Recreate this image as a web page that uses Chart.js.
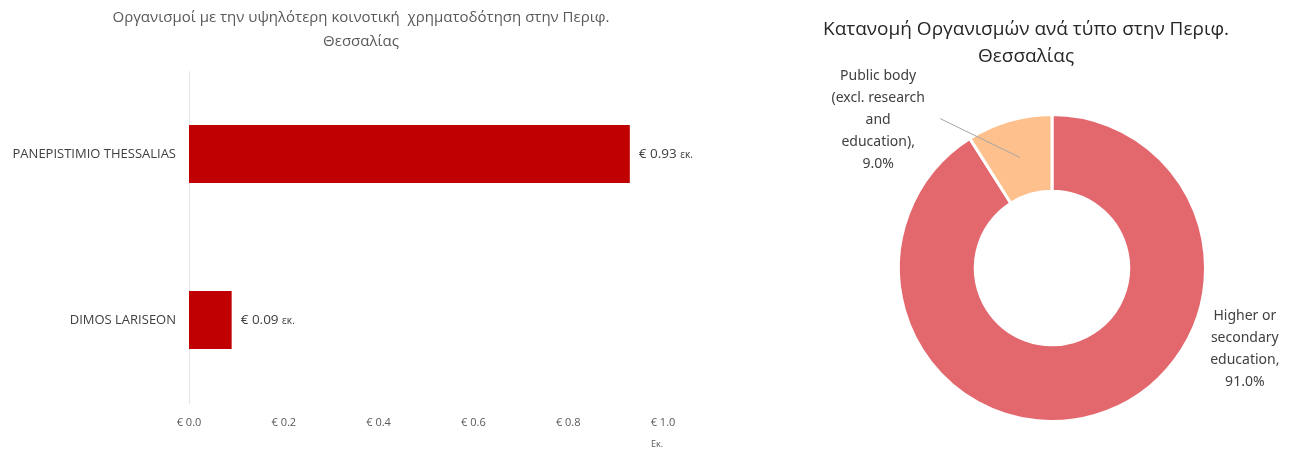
<!DOCTYPE html>
<html><head><meta charset="utf-8">
<script src="https://cdn.jsdelivr.net/npm/chart.js@4/dist/chart.umd.min.js"></script>
<style>
html,body{margin:0;padding:0;background:#fff;width:1294px;height:450px;overflow:hidden;}
#c1{position:absolute;left:0;top:0;}
#c2{position:absolute;left:758px;top:0;}
</style></head><body>
<canvas id="c1" width="722" height="450"></canvas>
<canvas id="c2" width="536" height="450"></canvas>
<script>
const barTitle = ["Οργανισμοί με την υψηλότερη κοινοτική  χρηματοδότηση στην Περιφ.", "Θεσσαλίας"];
const orgNames = ["PANEPISTIMIO THESSALIAS", "DIMOS LARISEON"];
const orgFunding = [0.93, 0.09];
const xTicks = [0, 0.2, 0.4, 0.6, 0.8, 1.0];
const xUnit = "Εκ.";
const valueSuffix = "εκ.";

const pieTitle = ["Κατανομή Οργανισμών ανά τύπο στην Περιφ.", "Θεσσαλίας"];
const orgTypes = ["Higher or secondary education", "Public body (excl. research and education)"];
const typeShares = [91.0, 9.0];
const typeLabelLines = [["Higher or", "secondary", "education,"], ["Public body", "(excl. research", "and", "education),"]];

const FONT = "'Open Sans', 'DejaVu Sans', sans-serif";
const LFONT = "'Noto Sans', 'DejaVu Sans', sans-serif";

const barDecor = {
  id: 'barDecor',
  afterDraw(chart) {
    const ctx = chart.ctx;
    ctx.save();
    ctx.fillStyle = '#595959';
    ctx.font = '15px ' + FONT;
    ctx.textAlign = 'center';
    ctx.textBaseline = 'middle';
    barTitle.forEach((t, k) => ctx.fillText(t, chart.width / 2, 18 + k * 24));
    ctx.textAlign = 'left';
    ctx.fillStyle = '#404040';
    const meta = chart.getDatasetMeta(0);
    meta.data.forEach((bar, i) => {
      const v = chart.data.datasets[0].data[i];
      const main = '€ ' + v.toFixed(2) + ' ';
      ctx.font = '13.5px ' + FONT;
      ctx.fillText(main, bar.x + 9, bar.y);
      const w = ctx.measureText(main).width;
      ctx.font = '10px ' + FONT;
      ctx.fillText(valueSuffix, bar.x + 9 + w, bar.y + 1);
    });
    ctx.restore();
  }
};

new Chart(document.getElementById('c1'), {
  type: 'bar',
  data: { labels: orgNames, datasets: [{ data: orgFunding, backgroundColor: '#C00000', barPercentage: 0.7, categoryPercentage: 0.5 }] },
  options: {
    indexAxis: 'y', responsive: false, animation: false,
    layout: { padding: { left: 0, right: 59, top: 71, bottom: 0 } },
    plugins: { legend: { display: false }, tooltip: { enabled: false }, title: { display: false } },
    scales: {
      x: {
        min: 0, max: 1.0,
        afterBuildTicks(s) { s.ticks = xTicks.map(v => ({ value: v })); },
        afterFit(s) { s.height = 47; },
        grid: { display: false, drawTicks: false }, border: { display: false },
        ticks: { padding: 13, color: '#595959', font: { family: FONT, size: 11 }, callback: v => '€ ' + Number(v).toFixed(1) },
        title: { display: true, text: xUnit, align: 'end', color: '#595959', font: { family: FONT, size: 9 }, padding: { top: 0, bottom: 0 } }
      },
      y: {
        afterFit(s) { s.width = 189; },
        grid: { display: false, drawTicks: false }, border: { display: true, color: '#E6E6E6', width: 1 },
        ticks: { padding: 13, color: '#404040', font: { family: FONT, size: 13 } }
      }
    }
  },
  plugins: [barDecor]
});

const pieDecor = {
  id: 'pieDecor',
  afterDraw(chart) {
    const ctx = chart.ctx;
    ctx.save();
    ctx.fillStyle = '#262626';
    ctx.font = '19px ' + FONT;
    ctx.textAlign = 'center';
    ctx.textBaseline = 'middle';
    pieTitle.forEach((t, k) => ctx.fillText(t, chart.width / 2, 30 + k * 27));
    const meta = chart.getDatasetMeta(0);
    ctx.fillStyle = '#404040';
    ctx.font = '14px ' + LFONT;
    const lh = 22;
    meta.data.forEach((arc, i) => {
      const lines = typeLabelLines[i].concat([typeShares[i].toFixed(1) + '%']);
      const mid = (arc.startAngle + arc.endAngle) / 2;
      const rMid = (arc.innerRadius + arc.outerRadius) / 2;
      let cx, cy;
      if (i === 0) {
        cx = arc.x + arc.outerRadius * Math.cos(mid) + 150;
        cy = arc.y + arc.outerRadius * Math.sin(mid) - 66;
      } else {
        cx = arc.x + arc.outerRadius * Math.cos(mid) - 131;
        cy = arc.y + arc.outerRadius * Math.sin(mid) - 1;
        const px = arc.x + rMid * Math.cos(mid), py = arc.y + rMid * Math.sin(mid);
        ctx.strokeStyle = '#A6A6A6'; ctx.lineWidth = 1;
        ctx.beginPath(); ctx.moveTo(cx + 62, cy - 1); ctx.lineTo(px, py); ctx.stroke();
      }
      const top = cy - (lines.length - 1) * lh / 2;
      lines.forEach((t, k) => ctx.fillText(t, cx, top + k * lh));
    });
    ctx.restore();
  }
};

new Chart(document.getElementById('c2'), {
  type: 'doughnut',
  data: { labels: orgTypes, datasets: [{ data: typeShares, backgroundColor: ['#E3686E', '#FEC08C'], borderColor: '#ffffff', borderWidth: 3 }] },
  options: {
    responsive: false, animation: false, cutout: '50%',
    layout: { padding: { left: 136, right: 84, top: 113, bottom: 27 } },
    plugins: { legend: { display: false }, tooltip: { enabled: false }, title: { display: false } }
  },
  plugins: [pieDecor]
});
</script>
</body></html>
